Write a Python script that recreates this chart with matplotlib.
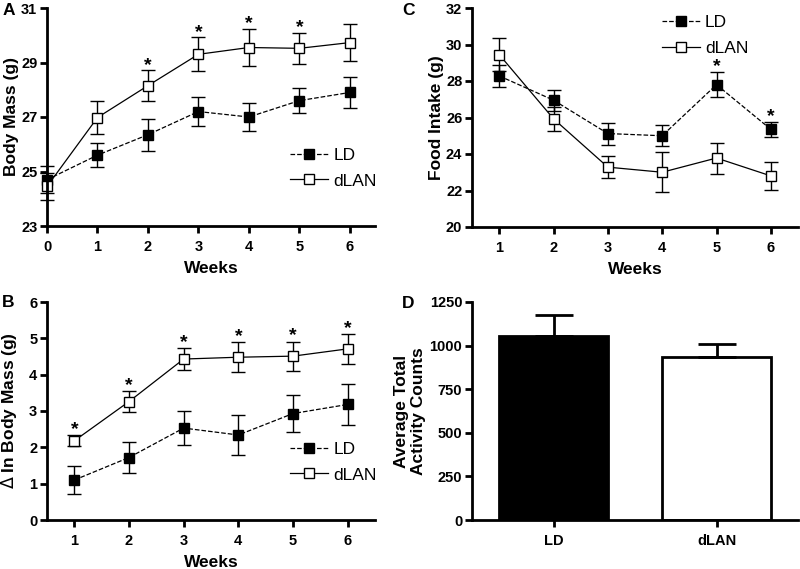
import numpy as np
import matplotlib.pyplot as plt
from matplotlib.lines import Line2D

plt.rcParams['font.family'] = ['Liberation Sans', 'DejaVu Sans']

# Panel A: body mass
weeks_a = [0, 1, 2, 3, 4, 5, 6]
mass_ld = [24.7, 25.6, 26.35, 27.2, 27.0, 27.6, 27.9]
mass_ld_err = [0.5, 0.43, 0.58, 0.54, 0.5, 0.45, 0.58]
mass_dlan = [24.45, 26.98, 28.15, 29.3, 29.55, 29.52, 29.73]
mass_dlan_err = [0.5, 0.62, 0.56, 0.62, 0.67, 0.56, 0.67]
mass_sig = [2, 3, 4, 5]

# Panel B: change in body mass
weeks = [1, 2, 3, 4, 5, 6]
delta_ld = [1.1, 1.72, 2.53, 2.34, 2.93, 3.18]
delta_ld_err = [0.38, 0.44, 0.47, 0.54, 0.5, 0.56]
delta_dlan = [2.18, 3.26, 4.43, 4.48, 4.51, 4.71]
delta_dlan_err = [0.15, 0.28, 0.3, 0.42, 0.4, 0.41]
delta_sig = [1, 2, 3, 4, 5, 6]

# Panel C: food intake
food_ld = [28.28, 26.95, 25.12, 25.0, 27.8, 25.35]
food_ld_err = [0.6, 0.58, 0.6, 0.57, 0.7, 0.4]
food_dlan = [29.45, 25.93, 23.28, 23.0, 23.78, 22.8]
food_dlan_err = [0.9, 0.65, 0.6, 1.1, 0.85, 0.78]
food_sig = [5, 6]

# Panel D: activity
groups = ['LD', 'dLAN']
activity = [1053, 932]
activity_err = [120, 77]

W, H = 800, 569
fig = plt.figure(figsize=(W / 100, H / 100), dpi=100)

LAB = 12.5
TICK = 10.5


def make_ax(l, r, t, b):
    return fig.add_axes([l / W, 1 - b / H, (r - l) / W, (b - t) / H])


def style(ax):
    for s in ['top', 'right']:
        ax.spines[s].set_visible(False)
    for s in ['left', 'bottom']:
        ax.spines[s].set_linewidth(2)
    ax.tick_params(width=2, length=5, labelsize=TICK, pad=2)
    ax.tick_params(axis='x', pad=5)
    for lab in ax.get_xticklabels() + ax.get_yticklabels():
        lab.set_fontweight('bold')


def lines(ax, x, ld, ld_err, dl, dl_err):
    ax.errorbar(x, ld, yerr=ld_err, color='black', ls='--', lw=0.9, marker='s',
                ms=7, mfc='black', mec='black', capsize=5, elinewidth=1,
                capthick=1, clip_on=False)
    ax.errorbar(x, dl, yerr=dl_err, color='black', ls='-', lw=0.9, marker='s',
                ms=7, mfc='white', mec='black', mew=1, capsize=5, elinewidth=1,
                capthick=1, clip_on=False)


def stars(ax, xpos, x, vals, errs, off):
    for xi in x:
        i = list(xpos).index(xi)
        ax.text(xi, vals[i] + errs[i] + off, '*', ha='center', va='bottom',
                fontsize=14, fontweight='bold')


def legend(ax, loc, anchor):
    h = [Line2D([], [], color='black', ls='--', lw=0.9, marker='s', ms=7,
                mfc='black', mec='black'),
         Line2D([], [], color='black', ls='-', lw=0.9, marker='s', ms=7,
                mfc='white', mec='black')]
    ax.legend(h, ['LD', 'dLAN'], loc=loc, bbox_to_anchor=anchor, frameon=False,
              fontsize=12.5, handlelength=2.2, handletextpad=0.3,
              labelspacing=0.6, borderaxespad=0)


def ylabel(ax, text, xr):
    # xr: right edge of the rotated label box, in axes fraction
    ax.set_ylabel(text, fontsize=LAB, fontweight='bold')
    ax.yaxis.set_label_coords(xr, 0.5)


# A
axA = make_ax(47, 375, 8, 226)
lines(axA, weeks_a, mass_ld, mass_ld_err, mass_dlan, mass_dlan_err)
stars(axA, weeks_a, mass_sig, mass_dlan, mass_dlan_err, -0.12)
axA.set_xlim(0, 6.5)
axA.set_ylim(23, 31)
axA.set_xticks(weeks_a)
axA.set_yticks([23, 25, 27, 29, 31])
axA.set_xlabel('Weeks', fontsize=LAB, fontweight='bold', labelpad=5)
ylabel(axA, 'Body Mass (g)', -0.084)
style(axA)
legend(axA, 'lower left', (0.72, 0.14))
fig.text(3 / W, 1 - 15 / H, 'A', fontsize=12.5, fontweight='bold')

# B
axB = make_ax(47, 375, 302, 520)
lines(axB, weeks, delta_ld, delta_ld_err, delta_dlan, delta_dlan_err)
stars(axB, weeks, delta_sig, delta_dlan, delta_dlan_err, -0.08)
axB.set_xlim(0.5, 6.5)
axB.set_ylim(0, 6)
axB.set_xticks(weeks)
axB.set_yticks(range(0, 7))
axB.set_xlabel('Weeks', fontsize=LAB, fontweight='bold', labelpad=5)
ylabel(axB, '$\\Delta$ In Body Mass (g)', -0.084)
style(axB)
legend(axB, 'lower left', (0.72, 0.14))
fig.text(2 / W, 1 - 307 / H, 'B', fontsize=12.5, fontweight='bold')

# C
axC = make_ax(472, 798, 8, 227)
lines(axC, weeks, food_ld, food_ld_err, food_dlan, food_dlan_err)
stars(axC, weeks, food_sig, food_ld, food_ld_err, -0.15)
axC.set_xlim(0.5, 6.5)
axC.set_ylim(20, 32)
axC.set_xticks(weeks)
axC.set_yticks(range(20, 33, 2))
axC.set_xlabel('Weeks', fontsize=LAB, fontweight='bold', labelpad=5)
ylabel(axC, 'Food Intake (g)', -0.086)
style(axC)
legend(axC, 'upper left', (0.56, 1.0))
fig.text(402 / W, 1 - 15 / H, 'C', fontsize=12.5, fontweight='bold')

# D
axD = make_ax(472, 798, 302, 520)
xd = np.arange(len(groups))
axD.bar(xd, activity, width=0.67, color=['black', 'white'], edgecolor='black',
        linewidth=2)
axD.errorbar(xd, activity, yerr=[[0, 0], activity_err], fmt='none',
             ecolor='black', elinewidth=2, capsize=14, capthick=2)
axD.set_xlim(-0.5, 1.5)
axD.set_ylim(0, 1250)
axD.set_xticks(xd)
axD.set_xticklabels(groups)
axD.set_yticks([0, 250, 500, 750, 1000, 1250])
ylabel(axD, 'Average Total\nActivity Counts', -0.141)
style(axD)
fig.text(402 / W, 1 - 308 / H, 'D', fontsize=12.5, fontweight='bold')

fig.savefig('out.png', dpi=100)
